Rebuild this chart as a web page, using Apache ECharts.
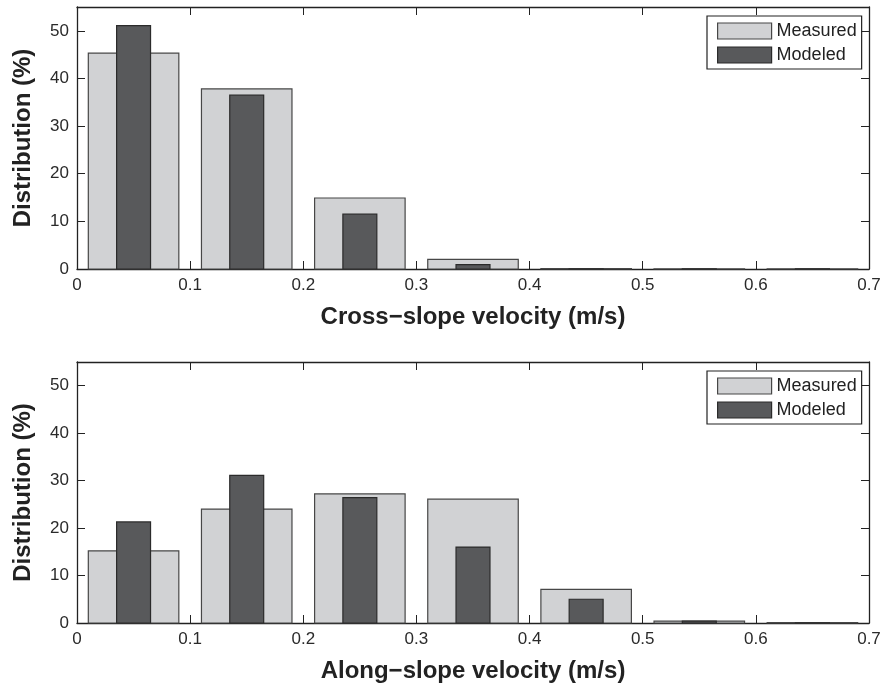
<!DOCTYPE html>
<html>
<head>
<meta charset="utf-8">
<script src="https://cdn.jsdelivr.net/npm/echarts@6/dist/echarts.min.js"></script>
<style>
  html, body { margin: 0; padding: 0; background: #fff; }
  #chart { width: 884px; height: 685px; }
</style>
</head>
<body>
<div id="chart"></div>
<script>
// Velocity bins (m/s), bin centres
const binCenters = [0.05, 0.15, 0.25, 0.35, 0.45, 0.55, 0.65];

// Cross-slope velocity distribution (%)
const crossMeasured = [45.3, 37.8, 14.9, 2.0, 0.1, 0.05, 0.05];
const crossModeled  = [51.1, 36.5, 11.5, 0.9, 0.05, 0.05, 0.05];

// Along-slope velocity distribution (%)
const alongMeasured = [15.2, 24.0, 27.2, 26.1, 7.1, 0.4, 0.1];
const alongModeled  = [21.3, 31.1, 26.4, 16.0, 5.0, 0.4, 0.05];

const xTicks = [0, 0.1, 0.2, 0.3, 0.4, 0.5, 0.6, 0.7];
const yTicks = [0, 10, 20, 30, 40, 50];

const seriesNames = ['Measured', 'Modeled'];
const xTitles = ['Cross\u2212slope velocity (m/s)', 'Along\u2212slope velocity (m/s)'];
const yTitle = 'Distribution (%)';

// Bar widths in data units (m/s)
const MEASURED_WIDTH = 0.08;
const MODELED_WIDTH = 0.03;

const FONT = '"Liberation Sans", Arial, Helvetica, sans-serif';
const MEASURED_FILL = '#d1d2d4';
const MEASURED_STROKE = '#474747';
const MODELED_FILL = '#58595b';
const MODELED_STROKE = '#2b2b2b';
const AXIS_COLOR = '#222';

function pairs(values) {
  return binCenters.map((c, i) => [c, values[i]]);
}

function barRenderer(width, fill, stroke) {
  return function (params, api) {
    const c = api.value(0);
    const v = api.value(1);
    const topLeft = api.coord([c - width / 2, v]);
    const bottomRight = api.coord([c + width / 2, 0]);
    return {
      type: 'rect',
      shape: {
        x: topLeft[0],
        y: topLeft[1],
        width: bottomRight[0] - topLeft[0],
        height: bottomRight[1] - topLeft[1]
      },
      style: { fill: fill, stroke: stroke, lineWidth: 1.2 }
    };
  };
}

const grids = [
  { left: 77, top: 7, width: 792, height: 262 },
  { left: 77, top: 362, width: 792, height: 261 }
];

function xAxisPair(gi, title) {
  const base = {
    type: 'value', gridIndex: gi, min: 0, max: 0.7, interval: 0.1,
    axisLine: { show: true, onZero: false, lineStyle: { color: AXIS_COLOR, width: 1.3 } },
    axisTick: { show: true, inside: true, length: 8, lineStyle: { color: AXIS_COLOR, width: 1 } },
    splitLine: { show: false }
  };
  return [
    Object.assign({}, base, {
      position: 'bottom',
      axisLabel: {
        show: true, margin: 8, fontSize: 17, color: '#2a2a2a', fontFamily: FONT,
        formatter: v => {
          const t = xTicks.find(k => Math.abs(k - v) < 1e-9);
          return t === undefined ? '' : String(t);
        }
      },
      name: title, nameLocation: 'middle', nameGap: 36,
      nameTextStyle: { fontSize: 24, fontWeight: 'bold', color: '#222', fontFamily: FONT }
    }),
    Object.assign({}, base, { position: 'top', axisLabel: { show: false } })
  ];
}

function yAxisPair(gi) {
  const base = {
    type: 'value', gridIndex: gi, min: 0, max: 55, interval: 10,
    axisLine: { show: true, onZero: false, lineStyle: { color: AXIS_COLOR, width: 1.3 } },
    axisTick: { show: true, inside: true, length: 8, lineStyle: { color: AXIS_COLOR, width: 1 } },
    splitLine: { show: false }
  };
  return [
    Object.assign({}, base, {
      position: 'left',
      axisLabel: {
        show: true, margin: 8, fontSize: 17, color: '#2a2a2a', fontFamily: FONT,
        showMaxLabel: false,
        formatter: v => (yTicks.indexOf(v) >= 0 ? String(v) : '')
      },
      name: yTitle, nameLocation: 'middle', nameGap: 42, nameRotate: 90,
      nameTextStyle: { fontSize: 24, fontWeight: 'bold', color: '#222', fontFamily: FONT }
    }),
    Object.assign({}, base, { position: 'right', axisLabel: { show: false } })
  ];
}

const xAxes = [].concat(xAxisPair(0, xTitles[0]), xAxisPair(1, xTitles[1]));
const yAxes = [].concat(yAxisPair(0), yAxisPair(1));

function legendAt(top) {
  return {
    orient: 'vertical', left: 707, top: top,
    padding: [6, 5, 5, 10], itemGap: 6,
    itemWidth: 54, itemHeight: 16,
    borderColor: '#222', borderWidth: 1.2, backgroundColor: '#fff',
    textStyle: { fontSize: 18, color: '#222', fontFamily: FONT, lineHeight: 16 },
    selectedMode: false,
    data: [
      { name: seriesNames[0], icon: 'rect',
        itemStyle: { color: MEASURED_FILL, borderColor: MEASURED_STROKE, borderWidth: 1.2 } },
      { name: seriesNames[1], icon: 'rect',
        itemStyle: { color: MODELED_FILL, borderColor: MODELED_STROKE, borderWidth: 1.2 } }
    ]
  };
}

const datasets = [
  [crossMeasured, crossModeled],
  [alongMeasured, alongModeled]
];

const series = [];
datasets.forEach((pair, gi) => {
  series.push({
    name: seriesNames[0], type: 'custom', xAxisIndex: gi * 2, yAxisIndex: gi * 2,
    renderItem: barRenderer(MEASURED_WIDTH, MEASURED_FILL, MEASURED_STROKE),
    itemStyle: { color: MEASURED_FILL }, z: 2, silent: true,
    encode: { x: 0, y: 1 }, data: pairs(pair[0])
  });
  series.push({
    name: seriesNames[1], type: 'custom', xAxisIndex: gi * 2, yAxisIndex: gi * 2,
    renderItem: barRenderer(MODELED_WIDTH, MODELED_FILL, MODELED_STROKE),
    itemStyle: { color: MODELED_FILL }, z: 3, silent: true,
    encode: { x: 0, y: 1 }, data: pairs(pair[1])
  });
});

const chart = echarts.init(document.getElementById('chart'), null, { renderer: 'canvas' });
chart.setOption({
  animation: false,
  backgroundColor: '#fff',
  textStyle: { fontFamily: FONT },
  grid: grids,
  xAxis: xAxes,
  yAxis: yAxes,
  legend: [legendAt(16), legendAt(371)],
  series: series
});
</script>
</body>
</html>
